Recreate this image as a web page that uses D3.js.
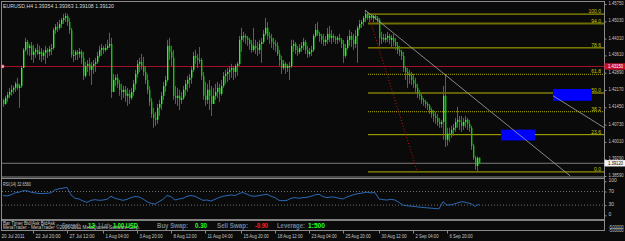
<!DOCTYPE html>
<html><head><meta charset="utf-8">
<script src="https://cdn.jsdelivr.net/npm/d3@7/dist/d3.min.js"></script>
<style>html,body{margin:0;padding:0;background:#0a0a0a;overflow:hidden}</style>
</head><body><svg id="c" width="625" height="241"></svg>
<script>
// ---------- data ----------
const title = "EURUSD,H4  1.39354  1.39363  1.39108  1.39120";
const firstOpen = 1.4176;
const high = [
1.4180,1.4193,1.4209,1.4226,1.4238,1.4234,1.4251,1.4268,1.4243,1.4317,
1.4392,1.4434,1.4426,1.4409,1.4417,1.4405,1.4392,1.4409,1.4401,1.4392,
1.4384,1.4401,1.4392,1.4401,1.4409,1.4476,1.4492,1.4500,1.4509,1.4517,
1.4534,1.4538,1.4534,1.4517,1.4476,1.4384,1.4384,1.4384,1.4392,1.4384,
1.4376,1.4334,1.4342,1.4351,1.4334,1.4342,1.4351,1.4376,1.4401,1.4409,
1.4401,1.4409,1.4426,1.4455,1.4434,1.4284,1.4280,1.4284,1.4259,1.4243,
1.4234,1.4234,1.4226,1.4218,1.4226,1.4259,1.4301,1.4342,1.4351,1.4367,
1.4355,1.4317,1.4284,1.4234,1.4184,1.4143,1.4126,1.4159,1.4176,1.4209,
1.4251,1.4276,1.4426,1.4434,1.4401,1.4384,1.4234,1.4226,1.4218,1.4209,
1.4234,1.4259,1.4276,1.4284,1.4317,1.4376,1.4384,1.4367,1.4396,1.4351,
1.4292,1.4251,1.4243,1.4259,1.4234,1.4226,1.4243,1.4251,1.4243,1.4259,
1.4292,1.4301,1.4309,1.4317,1.4326,1.4317,1.4326,1.4334,1.4442,1.4476,
1.4459,1.4451,1.4442,1.4434,1.4426,1.4476,1.4426,1.4417,1.4426,1.4434,
1.4467,1.4517,1.4500,1.4459,1.4451,1.4434,1.4426,1.4417,1.4384,1.4359,
1.4342,1.4334,1.4326,1.4334,1.4426,1.4426,1.4417,1.4401,1.4409,1.4417,
1.4434,1.4426,1.4401,1.4392,1.4401,1.4451,1.4492,1.4500,1.4459,1.4451,
1.4451,1.4442,1.4476,1.4484,1.4467,1.4451,1.4442,1.4442,1.4451,1.4434,
1.4426,1.4409,1.4442,1.4467,1.4459,1.4451,1.4467,1.4484,1.4509,1.4509,
1.4525,1.4550,1.4542,1.4534,1.4534,1.4534,1.4534,1.4525,1.4517,1.4459,
1.4451,1.4451,1.4459,1.4451,1.4446,1.4451,1.4434,1.4417,1.4401,1.4384,
1.4376,1.4317,1.4309,1.4301,1.4292,1.4284,1.4268,1.4243,1.4218,1.4201,
1.4184,1.4176,1.4168,1.4159,1.4143,1.4134,1.4126,1.4118,1.4101,1.4093,
1.4234,1.4284,1.4060,1.4060,1.4068,1.4076,1.4101,1.4147,1.4109,1.4109,
1.4101,1.4109,1.4101,1.4093,1.4068,1.3993,1.3943,1.3940,1.3936];
const low = [
1.4147,1.4155,1.4168,1.4184,1.4193,1.4201,1.4209,1.4218,1.4143,1.4226,
1.4309,1.4376,1.4363,1.4359,1.4342,1.4330,1.4351,1.4363,1.4342,1.4334,
1.4342,1.4326,1.4351,1.4359,1.4363,1.4384,1.4451,1.4459,1.4467,1.4476,
1.4492,1.4500,1.4484,1.4451,1.4351,1.4334,1.4342,1.4342,1.4351,1.4326,
1.4259,1.4268,1.4292,1.4276,1.4238,1.4284,1.4292,1.4326,1.4351,1.4359,
1.4367,1.4376,1.4384,1.4392,1.4184,1.4218,1.4234,1.4226,1.4193,1.4176,
1.4184,1.4168,1.4151,1.4159,1.4176,1.4193,1.4218,1.4268,1.4292,1.4301,
1.4276,1.4243,1.4201,1.4151,1.4101,1.4060,1.4068,1.4076,1.4109,1.4134,
1.4176,1.4209,1.4251,1.4342,1.4317,1.4176,1.4159,1.4151,1.4134,1.4159,
1.4176,1.4193,1.4209,1.4226,1.4243,1.4292,1.4326,1.4309,1.4326,1.4259,
1.4176,1.4151,1.4159,1.4134,1.4109,1.4159,1.4176,1.4184,1.4168,1.4193,
1.4226,1.4243,1.4251,1.4259,1.4268,1.4259,1.4268,1.4276,1.4317,1.4376,
1.4417,1.4409,1.4401,1.4384,1.4372,1.4376,1.4367,1.4359,1.4367,1.4330,
1.4409,1.4442,1.4426,1.4409,1.4392,1.4384,1.4376,1.4359,1.4317,1.4284,
1.4301,1.4284,1.4292,1.4259,1.4309,1.4376,1.4367,1.4359,1.4367,1.4376,
1.4384,1.4367,1.4351,1.4355,1.4359,1.4376,1.4434,1.4442,1.4417,1.4409,
1.4401,1.4401,1.4409,1.4417,1.4409,1.4417,1.4409,1.4409,1.4417,1.4392,
1.4330,1.4351,1.4384,1.4401,1.4396,1.4384,1.4392,1.4330,1.4467,1.4476,
1.4484,1.4500,1.4509,1.4500,1.4509,1.4500,1.4509,1.4492,1.4401,1.4409,
1.4417,1.4413,1.4417,1.4409,1.4392,1.4401,1.4384,1.4367,1.4359,1.4342,
1.4292,1.4259,1.4226,1.4243,1.4238,1.4226,1.4201,1.4184,1.4176,1.4159,
1.4151,1.4143,1.4134,1.4118,1.4101,1.4084,1.4076,1.4068,1.4060,1.4060,
1.4010,1.3980,1.3985,1.4001,1.4018,1.4026,1.4043,1.4060,1.4051,1.4043,
1.4051,1.4060,1.4051,1.4043,1.3968,1.3926,1.3885,1.3876,1.3911];
const close = [
1.4159,1.4184,1.4197,1.4209,1.4218,1.4226,1.4243,1.4226,1.4234,1.4309,
1.4384,1.4417,1.4392,1.4401,1.4363,1.4376,1.4384,1.4367,1.4376,1.4359,
1.4372,1.4384,1.4376,1.4388,1.4392,1.4467,1.4480,1.4476,1.4492,1.4509,
1.4517,1.4525,1.4500,1.4467,1.4363,1.4363,1.4376,1.4367,1.4376,1.4351,
1.4276,1.4317,1.4326,1.4301,1.4317,1.4326,1.4334,1.4359,1.4384,1.4392,
1.4384,1.4392,1.4401,1.4409,1.4209,1.4259,1.4268,1.4243,1.4218,1.4209,
1.4218,1.4193,1.4201,1.4184,1.4209,1.4243,1.4284,1.4326,1.4334,1.4317,
1.4292,1.4259,1.4218,1.4168,1.4118,1.4101,1.4093,1.4143,1.4159,1.4193,
1.4234,1.4259,1.4401,1.4376,1.4351,1.4193,1.4184,1.4193,1.4176,1.4184,
1.4218,1.4243,1.4259,1.4268,1.4301,1.4359,1.4351,1.4342,1.4342,1.4276,
1.4193,1.4176,1.4218,1.4193,1.4159,1.4193,1.4209,1.4226,1.4201,1.4234,
1.4276,1.4284,1.4292,1.4301,1.4309,1.4292,1.4317,1.4326,1.4426,1.4442,
1.4442,1.4434,1.4426,1.4409,1.4384,1.4401,1.4392,1.4384,1.4409,1.4417,
1.4451,1.4476,1.4442,1.4434,1.4417,1.4409,1.4401,1.4367,1.4342,1.4309,
1.4326,1.4309,1.4317,1.4317,1.4401,1.4409,1.4384,1.4376,1.4392,1.4401,
1.4417,1.4384,1.4367,1.4376,1.4384,1.4442,1.4467,1.4451,1.4442,1.4426,
1.4417,1.4426,1.4451,1.4434,1.4442,1.4434,1.4426,1.4434,1.4426,1.4409,
1.4359,1.4392,1.4426,1.4442,1.4426,1.4409,1.4442,1.4476,1.4492,1.4500,
1.4517,1.4534,1.4517,1.4525,1.4517,1.4525,1.4517,1.4509,1.4434,1.4434,
1.4426,1.4434,1.4442,1.4426,1.4434,1.4417,1.4401,1.4384,1.4376,1.4359,
1.4309,1.4292,1.4284,1.4276,1.4259,1.4243,1.4226,1.4201,1.4193,1.4176,
1.4168,1.4159,1.4151,1.4134,1.4118,1.4109,1.4101,1.4084,1.4076,1.4084,
1.4193,1.4010,1.4035,1.4035,1.4051,1.4060,1.4084,1.4093,1.4084,1.4068,
1.4084,1.4093,1.4076,1.4060,1.3985,1.3935,1.3901,1.3935,1.3912];
// RSI(14), one reading every 2 bars
const rsi = [
58,57,60,66,68,72,72,68,66,64,
64,65,66,75,78,80,82,60,50,48,
42,38,44,46,44,45,47,56,50,47,
44,47,52,55,54,48,40,35,33,40,
47,58,55,45,48,50,56,58,56,50,
44,45,42,47,52,56,58,60,58,64,
67,62,57,56,58,60,62,56,52,44,
43,44,50,52,50,52,53,56,60,62,
55,52,54,53,50,48,54,58,62,64,
66,68,66,67,48,46,45,47,45,38,
30,28,27,26,24,23,22,21,20,19,
40,30,31,34,38,40,37,34,26,32.656];
const rsiLabel = "RSI(14) 32.6560";
const priceTicks = [1.4575,1.4503,1.4431,1.4361,1.4289,1.4217,1.4145,1.4073,1.4001,1.3929,1.3859];
const rsiTicks = [100,70,30,0];
const rsiLevels = [70,30];
const dateTickIdx = [-2,15,32,50,67,84,101,119,136,153,170,188,205,222];
const dateTickLabels = ["20 Jul 2011","22 Jul 20:00","27 Jul 12:00","1 Aug 04:00","3 Aug 20:00","8 Aug 12:00",
  "11 Aug 04:00","15 Aug 20:00","18 Aug 12:00","23 Aug 04:00","25 Aug 20:00","30 Aug 12:00","2 Sep 04:00","6 Sep 20:00"];
const hLinePrice = 1.4315;
const bidPrice = 1.3912;
const fibStartIdx = 182.5;
const fibHigh = 1.4533, fibLow = 1.3876;
const fibLevels = [0,23.6,38.2,50,61.8,78.6,94.0,100];
const fibLabels = ["0.0","23.6","38.2","50.0","61.8","78.6","94.0","100.0"];
const fibStyle = ["solid","solid","dot","solid","dot","solid","thick","solid"];
const trendLines = [
  {i0:181, p0:1.4550, i1:283.5, p1:1.3860, kind:"gray"},
  {i0:275, p0:1.4193, i1:301, p1:1.4058, kind:"gray"},
  {i0:183.5, p0:1.4509, i1:207, p1:1.3881, kind:"reddot"}
];
const boxes = [
  {i0:275, i1:294.5, p0:1.4221, p1:1.4172},
  {i0:249, i1:266, p0:1.4052, p1:1.4007}
];
const infoItems = [
  ["Spread:", "lab"], ["13","val"], ["1 Lot:","lab"], ["1.00 USD","val"], ["Buy Swap:","lab"], ["0.30","val"],
  ["Sell Swap:","lab"], ["-0.90","neg"], ["Leverage:","lab"], ["1:500","val"]
];
const infoX = [62,88,98,113,157,195,217,255,277,308];
const infoW = [18,7,12,25,31,12,31,13,28,17];

// ---------- drawing ----------
const svg = d3.select("#c");
const FONT = "'Liberation Sans', Arial, sans-serif";
const AX = 604.5;
svg.append("rect").attr("width",625).attr("height",241).attr("fill","#0a0a0a");

const x = d3.scaleLinear().domain([0,238]).range([3,479]);
const y = d3.scaleLinear().domain([1.3859,1.4575]).range([176,4]);
const yr = d3.scaleLinear().domain([0,100]).range([215.3,181.3]);

svg.append("clipPath").attr("id","mc").append("rect").attr("x",2).attr("y",2).attr("width",AX-2).attr("height",174.5);
svg.append("clipPath").attr("id","rc").append("rect").attr("x",2).attr("y",179).attr("width",AX-2).attr("height",40);
const main = svg.append("g").attr("clip-path","url(#mc)");

// horizontal red line
main.append("line").attr("x1",2).attr("x2",AX).attr("y1",y(hLinePrice)).attr("y2",y(hLinePrice))
  .attr("stroke","#a8102c").attr("stroke-width",1);
// bid line
main.append("line").attr("x1",2).attr("x2",AX).attr("y1",y(bidPrice)).attr("y2",y(bidPrice))
  .attr("stroke","#7a7a7a").attr("stroke-width",1);

// fib lines
const fibY = l => y(fibLow + (fibHigh-fibLow)*l/100);
fibLevels.forEach((l,k)=>{
  const st = fibStyle[k];
  const ln = main.append("line").attr("x1",x(fibStartIdx)).attr("x2",AX).attr("y1",fibY(l)).attr("y2",fibY(l));
  if(st==="solid") ln.attr("stroke","#b4b400").attr("stroke-width",1);
  else if(st==="dot") ln.attr("stroke","#8f8f00").attr("stroke-width",1.3).attr("stroke-dasharray","1,1");
  else ln.attr("stroke","#6e6e00").attr("stroke-width",2);
  main.append("text").attr("x",601).attr("y",fibY(l)-1).attr("text-anchor","end")
    .attr("font-family",FONT).attr("font-size",5).attr("fill","#c8c800").text(fibLabels[k]);
});

// boxes
boxes.forEach(b=>{
  main.append("rect").attr("x",x(b.i0)).attr("width",x(b.i1)-x(b.i0))
    .attr("y",y(b.p0)).attr("height",y(b.p1)-y(b.p0)).attr("fill","#0000ff");
});

// candles
const bars = main.append("g");
close.forEach((c,i)=>{
  const o = i===0 ? firstOpen : close[i-1];
  const xi = x(i);
  bars.append("line").attr("x1",xi+0.5).attr("x2",xi+0.5).attr("y1",y(high[i])).attr("y2",y(low[i]))
    .attr("stroke","#00a000").attr("stroke-width",1);
  const top = y(Math.max(o,c)), bot = y(Math.min(o,c));
  bars.append("rect").attr("x",xi).attr("width",1.4).attr("y",top).attr("height",Math.max(1,bot-top))
    .attr("fill", c>=o ? "#20ff20" : "#10c810");
});

// trend lines
trendLines.forEach(t=>{
  const ln = main.append("line").attr("x1",x(t.i0)).attr("y1",y(t.p0)).attr("x2",x(t.i1)).attr("y2",y(t.p1));
  if(t.kind==="gray") ln.attr("stroke","#a8a8a8").attr("stroke-width",0.8);
  else ln.attr("stroke","#c81010").attr("stroke-width",1).attr("stroke-dasharray","1,2");
});
// red line anchor marker
svg.append("rect").attr("x",1).attr("y",y(hLinePrice)-1.5).attr("width",3).attr("height",3)
  .attr("fill","#f4c8d0").attr("stroke","#c02040").attr("stroke-width",0.5);

// title
svg.append("text").attr("x",3).attr("y",7.5).attr("font-family",FONT).attr("font-size",5.6)
  .attr("fill","#d8d8d8").attr("textLength",111).attr("lengthAdjust","spacingAndGlyphs").text(title);

// RSI panel
const rg = svg.append("g").attr("clip-path","url(#rc)");
rsiLevels.forEach(v=>{
  rg.append("line").attr("x1",2).attr("x2",AX).attr("y1",yr(v)).attr("y2",yr(v))
    .attr("stroke","#8a8a8a").attr("stroke-width",0.8).attr("stroke-dasharray","1,2");
});
rg.append("path").datum(rsi)
  .attr("d", d3.line().x((d,k)=>x(2*k)).y(d=>yr(d)))
  .attr("fill","none").attr("stroke","#2a68b4").attr("stroke-width",1);
svg.append("text").attr("x",3).attr("y",185.5).attr("font-family",FONT).attr("font-size",5)
  .attr("fill","#c8c8c8").attr("textLength",28).attr("lengthAdjust","spacingAndGlyphs").text(rsiLabel);

// info row
svg.append("text").attr("x",3).attr("y",225.3).attr("font-family",FONT).attr("font-size",4.5)
  .attr("fill","#c8c8c8").attr("textLength",52).attr("lengthAdjust","spacingAndGlyphs").text("Bar Timer  Bid/Ask  BidAsk");
svg.append("text").attr("x",3).attr("y",228.6).attr("font-family",FONT).attr("font-size",4.5)
  .attr("fill","#c8c8c8").attr("textLength",137).attr("lengthAdjust","spacingAndGlyphs").text("MetaTrader - MetaTrader  ©2006-2011 MetaQuotes Software Corp.");
infoItems.forEach(([t,k],j)=>{
  svg.append("text").attr("x",infoX[j]).attr("y",227.5).attr("font-family",FONT).attr("font-size",6.5)
    .attr("font-weight","bold").attr("textLength",infoW[j]).attr("lengthAdjust","spacingAndGlyphs")
    .attr("fill", k==="lab" ? "#6f8396" : (k==="neg" ? "#ff2020" : "#22ff22")).text(t);
});

// frame lines
const fr = svg.append("g").attr("stroke","#8a8a8a");
fr.append("line").attr("x1",1).attr("x2",AX).attr("y1",1.5).attr("y2",1.5);
fr.append("line").attr("x1",1.5).attr("x2",1.5).attr("y1",1).attr("y2",231);
fr.append("line").attr("x1",1).attr("x2",AX).attr("y1",177).attr("y2",177).attr("stroke-width",1);
fr.append("line").attr("x1",1).attr("x2",AX).attr("y1",178.5).attr("y2",178.5).attr("stroke-width",1);
fr.append("line").attr("x1",1).attr("x2",AX).attr("y1",220).attr("y2",220).attr("stroke","#a8a8a8").attr("stroke-width",1.6);
fr.append("line").attr("x1",1).attr("x2",AX).attr("y1",230.5).attr("y2",230.5);
fr.append("line").attr("x1",AX).attr("x2",AX).attr("y1",1).attr("y2",231);

// right price axis
const pa = svg.append("g").attr("transform",`translate(${AX},0)`)
  .call(d3.axisRight(y).tickValues(priceTicks).tickFormat(d3.format(".5f")).tickSize(2).tickPadding(2));
pa.select(".domain").remove();
pa.selectAll("line").attr("stroke","#8a8a8a");
pa.selectAll("text").attr("font-family",FONT).attr("font-size",5).attr("fill","#c8c8c8")
  .attr("textLength",15).attr("lengthAdjust","spacingAndGlyphs").attr("dy","0.1em");

// price labels on axis
function axisTag(price, txt, bg, fg){
  const yy = y(price);
  svg.append("rect").attr("x",AX).attr("y",yy-3.2).attr("width",625-AX).attr("height",6.4).attr("fill",bg);
  svg.append("text").attr("x",AX+3.5).attr("y",yy+1.9).attr("font-family",FONT).attr("font-size",5)
    .attr("fill",fg).attr("textLength",15).attr("lengthAdjust","spacingAndGlyphs").text(txt);
}
axisTag(hLinePrice, d3.format(".5f")(hLinePrice), "#c8102e", "#ffffff");
axisTag(bidPrice, d3.format(".5f")(bidPrice), "#f4f4f4", "#000000");

// RSI axis
const ra = svg.append("g").attr("transform",`translate(${AX},0)`)
  .call(d3.axisRight(yr).tickValues(rsiTicks).tickFormat(d3.format("d")).tickSize(2).tickPadding(2));
ra.select(".domain").remove();
ra.selectAll("line").attr("stroke","#8a8a8a");
ra.selectAll("text").attr("font-family",FONT).attr("font-size",5).attr("fill","#c8c8c8").attr("dy","0.1em");
["-500000","-500000"].forEach((t,k)=>{
  svg.append("text").attr("x",608.5).attr("y",229+ k*2.8).attr("font-family",FONT).attr("font-size",4.5)
    .attr("fill","#c8c8c8").attr("textLength",15).attr("lengthAdjust","spacingAndGlyphs").text(t);
});

// bottom date axis
const da = svg.append("g").attr("transform","translate(0,230.5)")
  .call(d3.axisBottom(x).tickValues(dateTickIdx).tickFormat((d,k)=>dateTickLabels[k]).tickSize(3));
da.select(".domain").remove();
da.selectAll("line").attr("stroke","#8a8a8a");
da.selectAll("text").attr("text-anchor","start").attr("x",2).attr("y",7.3).attr("dy",0)
  .attr("font-family",FONT).attr("font-size",5).attr("fill","#c8c8c8")
  .attr("textLength",(d,k)=>dateTickLabels[k].length*2.1).attr("lengthAdjust","spacingAndGlyphs");
</script></body></html>
